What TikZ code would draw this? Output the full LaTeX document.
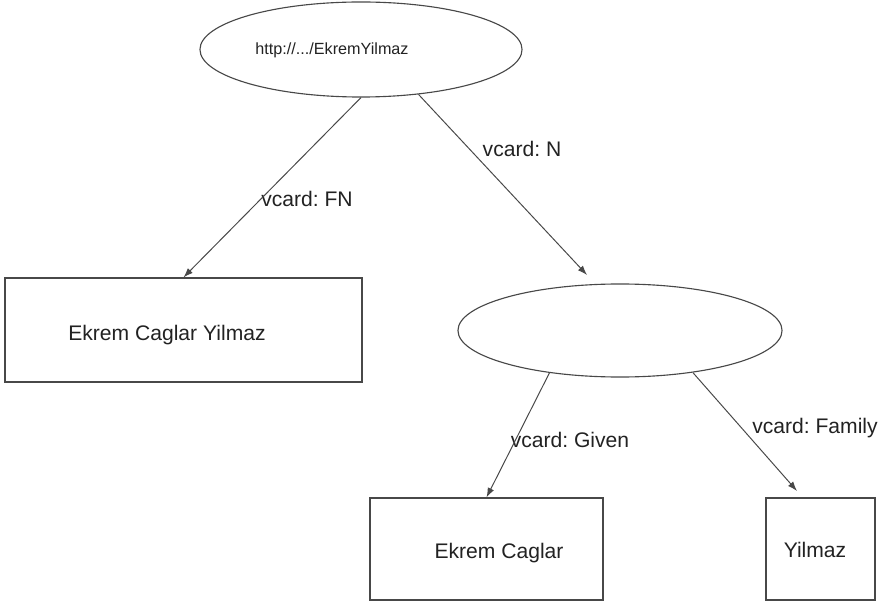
\documentclass[tikz,border=0pt]{standalone}
\usepackage{fontspec}
\setmainfont{Liberation Sans}
\usetikzlibrary{arrows.meta,shapes.geometric}
\definecolor{linegray}{HTML}{484848}
\definecolor{textgray}{HTML}{222222}
\frenchspacing
\begin{document}
\begin{tikzpicture}[x=0.025cm,y=-0.025cm]

      \useasboundingbox (0,0) rectangle (879,602);

      \begin{scope}[every node/.style={draw=linegray, line width=0.8pt, inner sep=0pt}]
        \node[ellipse, minimum width=8.05cm, minimum height=2.375cm] (url) at (361,49.5) {};
        \node[rectangle, minimum width=8.925cm, minimum height=2.6cm] (fn) at (183.5,330) {};
        \node[ellipse, minimum width=8.1cm, minimum height=2.325cm] (blank) at (620,330.5) {};
        \node[rectangle, minimum width=5.825cm, minimum height=2.55cm] (given) at (486.5,549) {};
        \node[rectangle, minimum width=2.725cm, minimum height=2.55cm] (family) at (820.5,549) {};
      \end{scope}

      \coordinate (ntip)   at (587,275);
      \coordinate (famtip) at (797,491);

      \begin{scope}[every node/.style={anchor=base, inner sep=0pt, text=textgray, font=\fontsize{15}{18}\selectfont}]
        \node[font=\fontsize{11.5}{14}\selectfont] (urltext) at (332,55) {http://.../EkremYilmaz};
        \node (fntext)     at (167,340) {Ekrem Caglar Yilmaz};
        \node (giventext)  at (499,558) {Ekrem Caglar};
        \node (familytext) at (815,557) {Yilmaz};
        \node (lfn)     at (307,207) {vcard: FN};
        \node (ln)      at (522,157) {vcard: N};
        \node (lgiven)  at (570,447) {vcard: Given};
        \node (lfamily) at (815,433) {vcard: Family};
      \end{scope}

      \begin{scope}[every edge/.style={draw=linegray, line width=0.7pt, -{Latex[length=2.4mm,width=1.7mm]}}]
        \path (url.south)  edge (fn.north);
        \path (url.-38)    edge (ntip);
        \path (blank.-149) edge (given.north);
        \path (blank.-30)  edge (famtip);
      \end{scope}

    \end{tikzpicture}
\end{document}
